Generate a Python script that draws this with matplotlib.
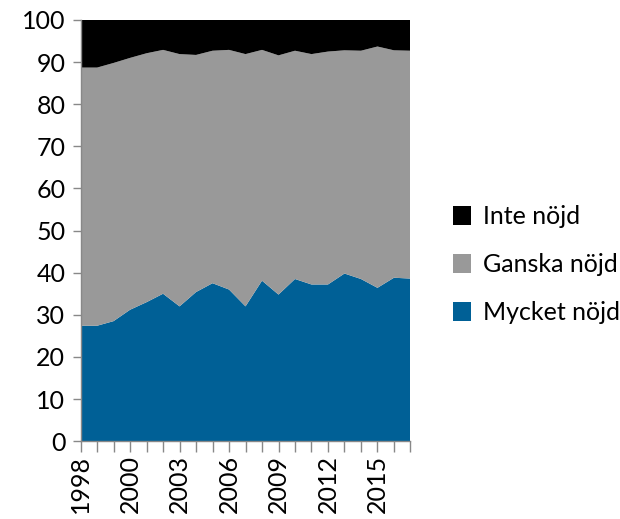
import numpy as np
import matplotlib.pyplot as plt

plt.rcParams['font.family'] = ['Lato', 'DejaVu Sans']

years = ['1998', '1998', '1999'] + [str(y) for y in range(2000, 2018)]
shown = {0: '1998', 3: '2000', 6: '2003', 9: '2006', 12: '2009', 15: '2012', 18: '2015'}

mycket = [27.4, 27.4, 28.5, 31.2, 33.0, 35.0, 32.0, 35.4, 37.5, 36.0, 32.0,
          38.1, 34.8, 38.5, 37.2, 37.2, 39.8, 38.5, 36.4, 38.8, 38.6]
nojd_top = [88.7, 88.7, 89.8, 91.0, 92.1, 92.9, 91.9, 91.7, 92.7, 92.9, 91.9,
            92.9, 91.6, 92.7, 91.9, 92.5, 92.8, 92.7, 93.7, 92.8, 92.7]

ganska = np.array(nojd_top) - np.array(mycket)
inte = 100 - np.array(nojd_top)

labels = ['Mycket nöjd', 'Ganska nöjd', 'Inte nöjd']
colors = ['#006096', '#999999', '#000000']

fig = plt.figure(figsize=(6.2, 5.19), dpi=100)
ax = fig.add_axes([0.130, 0.150, 0.532, 0.8115])

x = np.arange(len(years))
ax.stackplot(x, mycket, ganska, inte, colors=colors, labels=labels, linewidth=0)

ax.set_xlim(0, len(years) - 1)
ax.set_ylim(0, 100)
ax.set_yticks(range(0, 101, 10))
ax.set_xticks(x)
ax.set_xticklabels([shown.get(i, '') for i in x], rotation=90, fontsize=18)
ax.tick_params(axis='y', labelsize=18, length=6, color='#888888', width=1, pad=5)
ax.tick_params(axis='x', length=8, color='#888888', width=1, pad=2)

for s in ['top', 'right']:
    ax.spines[s].set_visible(False)
for s in ['left', 'bottom']:
    ax.spines[s].set_color('#888888')
    ax.spines[s].set_linewidth(1)

h, l = ax.get_legend_handles_labels()
fig.legend(h[::-1], l[::-1], loc='center left', bbox_to_anchor=(0.71, 0.49),
           frameon=False, fontsize=18, handlelength=0.75, handleheight=0.75,
           handletextpad=0.45, labelspacing=1.0, borderpad=0)

fig.savefig('out.png', dpi=100)
